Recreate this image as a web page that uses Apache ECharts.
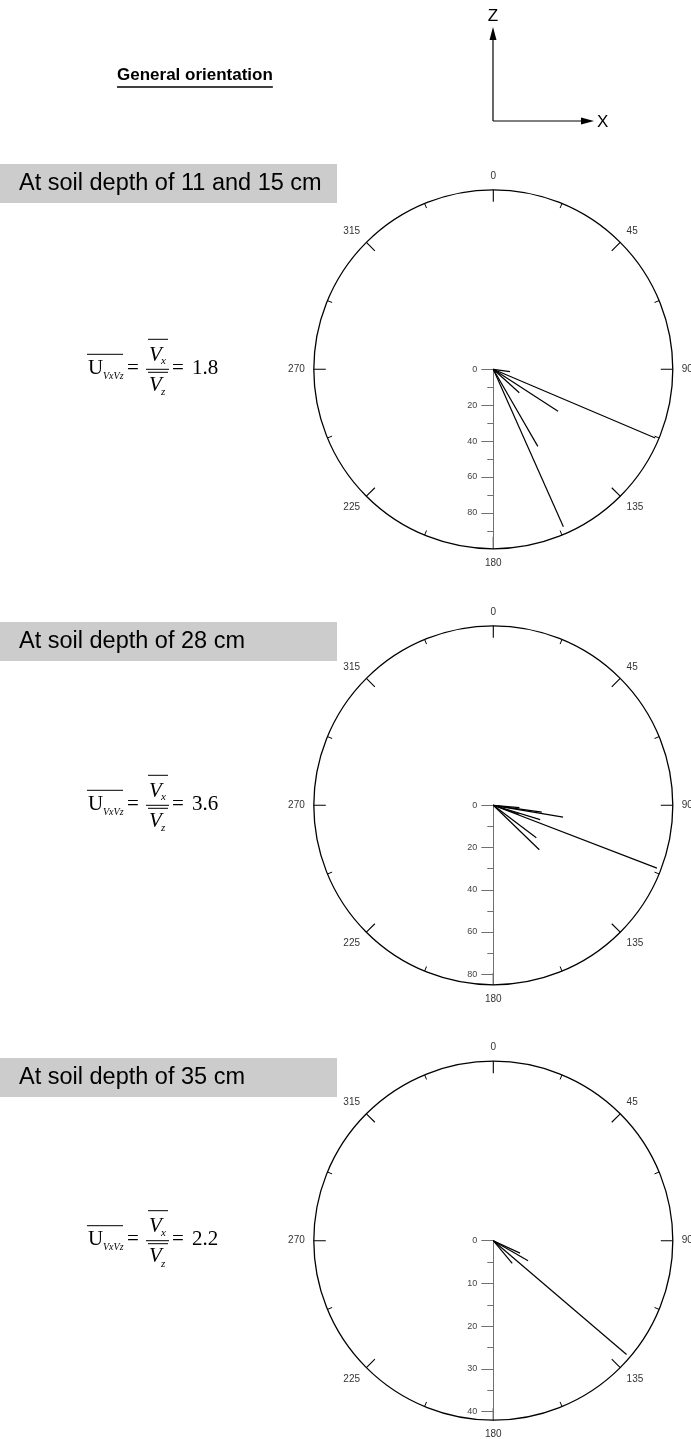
<!DOCTYPE html>
<html>
<head>
<meta charset="utf-8">
<script src="https://cdn.jsdelivr.net/npm/echarts@6/dist/echarts.min.js"></script>
<style>
  html, body { margin: 0; padding: 0; background: #fff; }
  #chart { width: 691px; height: 1439px; }
</style>
</head>
<body>
<div id="chart"></div>
<script>
// ---- data ---------------------------------------------------------------
const depthLabels = ['At soil depth of 11 and 15 cm', 'At soil depth of 28 cm', 'At soil depth of 35 cm'];
const ratioValues = ['1.8', '3.6', '2.2'];
const angleMin = 0, angleMax = 360, angleStep = 45;
const radiusMax = [100, 85, 42];
const radiusMajorTicks = [[0, 20, 40, 60, 80], [0, 20, 40, 60, 80], [0, 10, 20, 30, 40]];
const radiusMinorTicks = [[10, 30, 50, 70, 90], [10, 30, 50, 70], [5, 15, 25, 35]];
// vector directions (degrees clockwise from z) and magnitudes
const dir11_15 = [113, 123, 132, 98, 150, 156];
const mag11_15 = [98, 43, 19.5, 9.4, 49.6, 96];
const dir28 = [111, 99.6, 98, 107, 127, 134, 95, 109];
const mag28 = [83, 33.5, 23.2, 23.2, 25.5, 30.3, 12.4, 13];
const dir35 = [130.5, 120, 115, 140];
const mag35 = [41, 9.4, 6.9, 6.9];

const directions = [dir11_15, dir28, dir35];
const magnitudes = [mag11_15, mag28, mag35];

// ---- layout -------------------------------------------------------------
const CX = 493.3, R = 179.5;
const centersY = [369.3, 805.3, 1240.7];
const boxTops = [164, 622, 1058];

const measureCtx = document.createElement('canvas').getContext('2d');
function textWidth(str, font) { measureCtx.font = font; return measureCtx.measureText(str).width; }

const polar = [], angleAxis = [], radiusAxis = [], series = [];
const axisGrey = '#707070';

centersY.forEach((cy, i) => {
  const center = [CX, cy];
  const base = polar.length;
  polar.push({ center, radius: R }, { center, radius: R }, { center, radius: R });

  // compass circle with direction ticks; vectors live here
  angleAxis.push({
    polarIndex: base, type: 'value', min: angleMin, max: angleMax, interval: angleStep,
    startAngle: 90, clockwise: true,
    axisLine: { lineStyle: { color: '#000', width: 1.3 } },
    axisTick: { inside: true, length: 12, lineStyle: { color: '#000', width: 1.1 } },
    minorTick: { show: true, splitNumber: 2, length: 5, lineStyle: { color: '#000', width: 1 } },
    splitLine: { show: false }, minorSplitLine: { show: false },
    axisLabel: { margin: 9, fontSize: 10, color: '#333', fontFamily: 'Liberation Sans, Arial' }
  });
  radiusAxis.push({ polarIndex: base, type: 'value', min: 0, max: radiusMax[i], show: false, splitLine: { show: false } });

  // magnitude scale pointing towards 180, ticks and labels on its left
  angleAxis.push({ polarIndex: base + 1, type: 'value', min: 0, max: 360, startAngle: 270, show: false, splitLine: { show: false } });
  radiusAxis.push({
    polarIndex: base + 1, type: 'value', min: 0, max: radiusMax[i],
    axisLine: { lineStyle: { color: axisGrey, width: 1 } },
    axisTick: { show: true, length: -12, customValues: radiusMajorTicks[i], lineStyle: { color: axisGrey, width: 1 } },
    axisLabel: { customValues: radiusMajorTicks[i], fontSize: 9, color: '#444', margin: -16, align: 'right', verticalAlign: 'middle', fontFamily: 'Liberation Sans, Arial' },
    splitLine: { show: false }
  });
  angleAxis.push({ polarIndex: base + 2, type: 'value', min: 0, max: 360, startAngle: 270, show: false, splitLine: { show: false } });
  radiusAxis.push({
    polarIndex: base + 2, type: 'value', min: 0, max: radiusMax[i],
    axisLine: { show: false },
    axisTick: { show: true, length: -6, customValues: radiusMinorTicks[i], lineStyle: { color: axisGrey, width: 1 } },
    axisLabel: { show: false },
    splitLine: { show: false }
  });

  directions[i].forEach((d, k) => {
    series.push({
      type: 'line', coordinateSystem: 'polar', polarIndex: base,
      data: [[0, d], [magnitudes[i][k], d]],
      symbol: 'none', silent: true,
      lineStyle: { color: '#000', width: 1.2 }
    });
  });
});

// ---- text, boxes and the ratio formula -----------------------------------
const graphic = [];
const titleFont = 'bold 17px "Liberation Sans", Arial';
const titleText = 'General orientation';
const titleX = 117, titleY = 77;
graphic.push({ type: 'text', left: titleX, top: titleY - 10, style: { text: titleText, font: titleFont, fill: '#000' } });
graphic.push({ type: 'line', shape: { x1: titleX, y1: titleY + 10, x2: titleX + textWidth(titleText, titleFont), y2: titleY + 10 }, style: { stroke: '#000', lineWidth: 1.5 } });

// orientation axes
const ox = 493, oy = 121;
graphic.push({ type: 'line', shape: { x1: ox, y1: oy, x2: ox, y2: 38 }, style: { stroke: '#000', lineWidth: 1.2 } });
graphic.push({ type: 'polygon', shape: { points: [[ox, 27], [ox - 3.5, 40], [ox + 3.5, 40]] }, style: { fill: '#000' } });
graphic.push({ type: 'line', shape: { x1: ox, y1: oy, x2: 582, y2: oy }, style: { stroke: '#000', lineWidth: 1.2 } });
graphic.push({ type: 'polygon', shape: { points: [[594, oy], [581, oy - 3.5], [581, oy + 3.5]] }, style: { fill: '#000' } });
graphic.push({ type: 'text', x: ox, y: 16, style: { text: 'Z', font: '17px "Liberation Sans", Arial', fill: '#000', textAlign: 'center', textVerticalAlign: 'middle' } });
graphic.push({ type: 'text', x: 597, y: oy + 1, style: { text: 'X', font: '17px "Liberation Sans", Arial', fill: '#000', textAlign: 'left', textVerticalAlign: 'middle' } });

const serif = '"Liberation Serif", "Times New Roman", serif';
centersY.forEach((cy, i) => {
  const top = boxTops[i];
  graphic.push({ type: 'rect', shape: { x: 0, y: top, width: 337, height: 39 }, style: { fill: '#cccccc' } });
  graphic.push({ type: 'text', x: 19, y: top + 20, style: { text: depthLabels[i], font: '23.5px "Liberation Sans", Arial', fill: '#000', textAlign: 'left', textVerticalAlign: 'middle' } });

  const line = (x1, y1, x2, y2) => graphic.push({ type: 'line', shape: { x1, y1, x2, y2 }, style: { stroke: '#000', lineWidth: 1 } });
  const txt = (x, y, s, font) => graphic.push({ type: 'text', x, y, style: { text: s, font, fill: '#000', textAlign: 'left', textVerticalAlign: 'middle' } });

  txt(88, cy - 1, 'U', '21px ' + serif);
  txt(103, cy + 7, 'VxVz', 'italic 10px ' + serif);
  line(87, cy - 15, 123, cy - 15);
  txt(127, cy - 1, '=', '21px ' + serif);
  txt(149, cy - 14, 'V', 'italic 21px ' + serif);
  txt(161, cy - 8, 'x', 'italic 11px ' + serif);
  line(148, cy - 30, 168, cy - 30);
  line(146, cy, 169, cy);
  line(148, cy + 3, 168, cy + 3);
  txt(149, cy + 16, 'V', 'italic 21px ' + serif);
  txt(161, cy + 23, 'z', 'italic 11px ' + serif);
  txt(172, cy - 1, '=', '21px ' + serif);
  txt(192, cy - 1, ratioValues[i], '21px ' + serif);
});

const chart = echarts.init(document.getElementById('chart'), null, { renderer: 'canvas' });
chart.setOption({
  animation: false,
  backgroundColor: '#fff',
  polar, angleAxis, radiusAxis, series, graphic
});
</script>
</body>
</html>
